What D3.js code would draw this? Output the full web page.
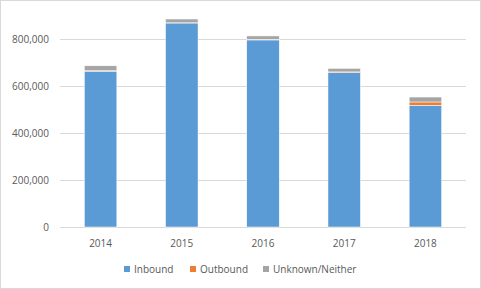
<!DOCTYPE html>
<html><head><meta charset="utf-8">
<script src="https://cdn.jsdelivr.net/npm/d3@7/dist/d3.min.js"></script>
<style>body{margin:0;background:#fff}svg{display:block}</style>
</head><body><svg id="c" width="481" height="289"></svg>
<script>
const categories = ["2014","2015","2016","2017","2018"];
const inbound = [663000, 868000, 796000, 657000, 518000];
const outbound = [2000, 1000, 2000, 3000, 14000];
const unknown = [21000, 16000, 15000, 15000, 21000];
const seriesNames = ["Inbound","Outbound","Unknown/Neither"];
const yTicks = [0, 200000, 400000, 600000, 800000];
const colors = ["#5B9BD5","#ED7D31","#A5A5A5"];

const svg = d3.select("#c");
const W = 481, H = 289;
svg.append("rect").attr("x",0.5).attr("y",0.5).attr("width",W-1).attr("height",H-1)
  .attr("fill","#fff").attr("stroke","#D9D9D9");

const m = {l:60, r:15, t:39, b:62};
const x = d3.scaleBand().domain(categories).range([60, 466]).paddingInner(0.6).paddingOuter(0.3);
const y = d3.scaleLinear().domain([0, 800000]).range([227, 39]);

const font = "'Open Sans', 'Liberation Sans', sans-serif";
const g = svg.append("g");
g.selectAll("line.grid").data(yTicks).join("line")
  .attr("x1",60).attr("x2",466).attr("y1",d=>Math.round(y(d))+0.5).attr("y2",d=>Math.round(y(d))+0.5)
  .attr("stroke","#D9D9D9").attr("stroke-width",1);

g.selectAll("text.yl").data(yTicks).join("text")
  .attr("x",49).attr("y",d=>y(d)).attr("dy","0.35em").attr("text-anchor","end")
  .attr("font-family",font).attr("font-size",10).attr("fill","#595959")
  .text(d=>d3.format(",")(d));

const rows = categories.map((c,i)=>({cat:c, Inbound:inbound[i], Outbound:outbound[i], "Unknown/Neither":unknown[i]}));
const stack = d3.stack().keys(seriesNames)(rows);
stack.forEach((s,si)=>{
  g.selectAll("rect.s"+si).data(s).join("rect")
    .attr("x",d=>x(d.data.cat)).attr("width",x.bandwidth())
    .attr("y",d=>y(d[1])).attr("height",d=>y(d[0])-y(d[1]))
    .attr("fill",colors[si]).attr("stroke","#fff").attr("stroke-width",0.5);
});

g.selectAll("text.xl").data(categories).join("text")
  .attr("x",d=>x(d)+x.bandwidth()/2).attr("y",243).attr("dy","0.35em").attr("text-anchor","middle")
  .attr("font-family",font).attr("font-size",10).attr("fill","#595959").text(d=>d);

const legX = [124, 190, 263];
const lg = g.selectAll("g.leg").data(seriesNames).join("g").attr("transform",(d,i)=>`translate(${legX[i]},269)`);
lg.append("rect").attr("x",0).attr("y",-3).attr("width",6).attr("height",6).attr("fill",(d,i)=>colors[i]);
lg.append("text").attr("x",10).attr("y",0).attr("dy","0.35em")
  .attr("font-family",font).attr("font-size",10).attr("fill","#595959").text(d=>d);
</script></body></html>
